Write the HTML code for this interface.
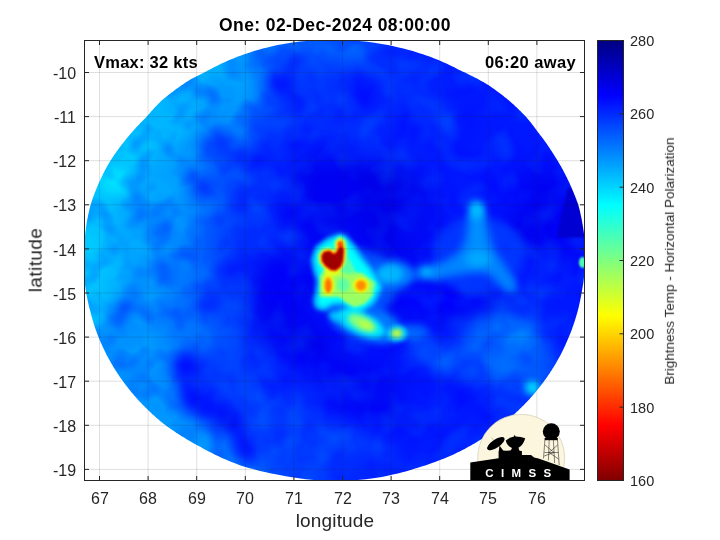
<!DOCTYPE html>
<html><head><meta charset="utf-8"><title>plot</title>
<style>
html,body{margin:0;padding:0;background:#fff;}
body{width:720px;height:540px;position:relative;overflow:hidden;font-family:"Liberation Sans",sans-serif;}
.t{position:absolute;white-space:nowrap;color:#262626;line-height:1.2;will-change:transform;font-family:"Liberation Sans",sans-serif;}
</style></head><body>
<svg width="720" height="540" viewBox="0 0 720 540" style="position:absolute;left:0;top:0">
<defs>
<clipPath id="ax"><rect x="84.5" y="40.5" width="500" height="440"/></clipPath>
<clipPath id="disk" clip-path="url(#ax)"><path d="M313.7,40.4 L300.0,41.6 L290.8,42.7 L283.7,43.9 L277.6,45.1 L272.2,46.2 L267.4,47.4 L262.9,48.5 L258.7,49.7 L254.8,50.8 L251.2,52.0 L247.7,53.2 L244.4,54.3 L241.1,55.5 L238.0,56.6 L235.0,57.8 L232.1,58.9 L229.3,60.1 L226.7,61.3 L224.1,62.4 L221.5,63.6 L219.1,64.7 L216.7,65.9 L214.4,67.1 L212.2,68.2 L210.0,69.4 L207.8,70.5 L205.8,71.7 L203.6,72.8 L201.2,74.0 L198.9,75.2 L196.6,76.3 L194.4,77.5 L192.2,78.6 L190.0,79.8 L188.1,80.9 L186.3,82.1 L184.6,83.3 L182.8,84.4 L181.1,85.6 L179.5,86.7 L177.8,87.9 L176.2,89.1 L174.6,90.2 L173.1,91.4 L171.6,92.5 L170.1,93.7 L168.6,94.8 L167.1,96.0 L165.7,97.2 L164.3,98.3 L162.9,99.5 L161.6,100.6 L160.4,101.8 L159.2,102.9 L158.1,104.1 L156.9,105.3 L155.8,106.4 L154.7,107.6 L153.6,108.7 L152.6,109.9 L151.5,111.1 L150.5,112.2 L149.5,113.4 L148.5,114.5 L147.5,115.7 L146.6,116.8 L145.4,118.0 L144.2,119.2 L143.1,120.3 L141.9,121.5 L140.8,122.6 L139.7,123.8 L138.6,124.9 L137.5,126.1 L136.4,127.3 L135.3,128.4 L134.3,129.6 L133.3,130.7 L132.2,131.9 L131.2,133.1 L130.2,134.2 L129.2,135.4 L128.3,136.5 L127.3,137.7 L126.3,138.8 L125.4,140.0 L124.5,141.2 L123.6,142.3 L122.7,143.5 L121.8,144.6 L120.9,145.8 L120.0,146.9 L119.2,148.1 L118.3,149.3 L117.5,150.4 L116.6,151.6 L115.8,152.7 L115.0,153.9 L114.2,155.1 L113.4,156.2 L112.6,157.4 L111.9,158.5 L111.1,159.7 L110.4,160.8 L109.6,162.0 L109.0,163.2 L108.3,164.3 L107.6,165.5 L107.0,166.6 L106.4,167.8 L105.7,168.9 L105.1,170.1 L104.5,171.3 L103.9,172.4 L103.3,173.6 L102.8,174.7 L102.2,175.9 L101.6,177.1 L101.1,178.2 L100.5,179.4 L100.0,180.5 L99.5,181.7 L98.9,182.8 L98.4,184.0 L97.9,185.2 L97.4,186.3 L96.9,187.5 L96.5,188.6 L96.0,189.8 L95.5,190.9 L95.1,192.1 L94.6,193.3 L94.2,194.4 L93.8,195.6 L93.3,196.7 L92.9,197.9 L92.5,199.1 L92.1,200.2 L91.7,201.4 L91.3,202.5 L91.0,203.7 L90.6,204.8 L90.3,206.0 L90.0,207.2 L89.7,208.3 L89.4,209.5 L89.1,210.6 L88.9,211.8 L88.6,212.9 L88.4,214.1 L88.1,215.3 L87.9,216.4 L87.7,217.6 L87.4,218.7 L87.2,219.9 L87.0,221.1 L86.8,222.2 L86.6,223.4 L86.4,224.5 L86.3,225.7 L86.1,226.8 L85.9,228.0 L85.8,229.2 L85.6,230.3 L85.5,231.5 L85.3,232.6 L85.2,233.8 L85.1,234.9 L85.0,236.1 L84.8,237.3 L84.7,238.4 L84.6,239.6 L84.4,240.7 L84.3,241.9 L84.2,243.1 L84.1,244.2 L84.0,245.4 L83.9,246.5 L83.9,247.7 L83.8,248.8 L83.7,250.0 L83.7,251.2 L83.6,252.3 L83.6,253.5 L83.5,254.6 L83.5,255.8 L83.5,256.9 L83.5,258.1 L83.5,259.3 L83.4,260.4 L83.5,261.6 L83.5,262.7 L83.5,263.9 L83.5,265.1 L83.5,266.2 L83.6,267.4 L83.6,268.5 L83.7,269.7 L83.7,270.8 L83.8,272.0 L83.9,273.2 L83.9,274.3 L84.0,275.5 L84.1,276.6 L84.2,277.8 L84.3,278.9 L84.4,280.1 L84.6,281.3 L84.7,282.4 L84.8,283.6 L85.0,284.7 L85.1,285.9 L85.3,287.1 L85.5,288.2 L85.6,289.4 L85.8,290.5 L86.0,291.7 L86.2,292.8 L86.4,294.0 L86.6,295.2 L86.8,296.3 L87.1,297.5 L87.3,298.6 L87.5,299.8 L87.8,300.9 L88.0,302.1 L88.3,303.3 L88.6,304.4 L88.8,305.6 L89.1,306.7 L89.4,307.9 L89.7,309.1 L90.0,310.2 L90.3,311.4 L90.6,312.5 L90.9,313.7 L91.2,314.8 L91.5,316.0 L91.8,317.2 L92.1,318.3 L92.5,319.5 L92.8,320.6 L93.2,321.8 L93.5,322.9 L93.9,324.1 L94.3,325.3 L94.6,326.4 L95.0,327.6 L95.4,328.7 L95.8,329.9 L96.2,331.1 L96.7,332.2 L97.1,333.4 L97.5,334.5 L98.0,335.7 L98.4,336.8 L98.9,338.0 L99.4,339.2 L99.9,340.3 L100.3,341.5 L100.8,342.6 L101.4,343.8 L101.9,344.9 L102.4,346.1 L102.9,347.3 L103.5,348.4 L104.0,349.6 L104.6,350.7 L105.2,351.9 L105.7,353.1 L106.3,354.2 L106.9,355.4 L107.5,356.5 L108.1,357.7 L108.8,358.8 L109.4,360.0 L110.1,361.2 L110.7,362.3 L111.4,363.5 L112.1,364.6 L112.7,365.8 L113.4,366.9 L114.1,368.1 L114.9,369.3 L115.6,370.4 L116.3,371.6 L117.1,372.7 L117.8,373.9 L118.6,375.1 L119.4,376.2 L120.2,377.4 L121.0,378.5 L121.8,379.7 L122.7,380.8 L123.5,382.0 L124.4,383.2 L125.2,384.3 L126.1,385.5 L127.0,386.6 L127.9,387.8 L128.8,388.9 L129.7,390.1 L130.7,391.3 L131.6,392.4 L132.6,393.6 L133.6,394.7 L134.6,395.9 L135.6,397.1 L136.6,398.2 L137.7,399.4 L138.7,400.5 L139.8,401.7 L140.9,402.8 L142.0,404.0 L143.1,405.2 L144.3,406.3 L145.4,407.5 L146.6,408.6 L147.8,409.8 L149.0,410.9 L150.2,412.1 L151.4,413.3 L152.7,414.4 L154.0,415.6 L155.3,416.7 L156.6,417.9 L157.9,419.1 L159.3,420.2 L160.7,421.4 L162.1,422.5 L163.5,423.7 L165.0,424.8 L166.5,426.0 L168.2,427.2 L169.8,428.3 L171.5,429.5 L173.2,430.6 L174.9,431.8 L176.6,432.9 L178.4,434.1 L180.2,435.3 L182.1,436.4 L184.0,437.6 L185.9,438.7 L187.8,439.9 L189.8,441.1 L191.8,442.2 L193.9,443.4 L195.9,444.5 L198.1,445.7 L200.3,446.8 L202.3,448.0 L204.4,449.2 L206.5,450.3 L208.7,451.5 L211.0,452.6 L213.2,453.8 L215.6,454.9 L218.0,456.1 L220.5,457.3 L223.1,458.4 L225.8,459.6 L228.5,460.7 L231.4,461.9 L234.3,463.1 L237.4,464.2 L240.6,465.4 L243.9,466.5 L247.8,467.7 L252.0,468.8 L256.4,470.0 L261.1,471.2 L266.0,472.3 L271.3,473.5 L277.0,474.6 L283.2,475.8 L290.2,476.9 L297.4,478.1 L305.7,479.3 L319.4,480.4 L351.6,480.4 L366.0,479.3 L375.0,478.1 L381.8,476.9 L387.6,475.8 L392.8,474.6 L397.8,473.5 L402.4,472.3 L406.6,471.2 L410.6,470.0 L414.3,468.8 L417.9,467.7 L421.6,466.5 L425.2,465.4 L428.7,464.2 L432.0,463.1 L435.1,461.9 L438.2,460.7 L441.3,459.6 L444.2,458.4 L447.1,457.3 L450.0,456.1 L452.5,454.9 L455.0,453.8 L457.3,452.6 L459.7,451.5 L461.9,450.3 L464.2,449.2 L466.3,448.0 L468.4,446.8 L470.5,445.7 L472.5,444.5 L474.5,443.4 L476.5,442.2 L478.4,441.1 L480.2,439.9 L482.1,438.7 L483.9,437.6 L485.6,436.4 L487.4,435.3 L489.1,434.1 L490.7,432.9 L492.4,431.8 L494.0,430.6 L495.6,429.5 L497.1,428.3 L498.7,427.2 L500.2,426.0 L501.7,424.8 L503.1,423.7 L504.6,422.5 L506.0,421.4 L507.4,420.2 L508.7,419.1 L510.1,417.9 L511.4,416.7 L512.7,415.6 L514.0,414.4 L515.3,413.3 L516.5,412.1 L517.8,410.9 L519.0,409.8 L520.2,408.6 L521.4,407.5 L522.5,406.3 L523.7,405.2 L524.8,404.0 L525.9,402.8 L527.0,401.7 L528.1,400.5 L529.2,399.4 L530.2,398.2 L531.3,397.1 L532.3,395.9 L533.3,394.7 L534.3,393.6 L535.3,392.4 L536.2,391.3 L537.2,390.1 L538.1,388.9 L539.0,387.8 L540.0,386.6 L540.9,385.5 L541.7,384.3 L542.6,383.2 L543.5,382.0 L544.3,380.8 L545.2,379.7 L546.0,378.5 L546.8,377.4 L547.6,376.2 L548.4,375.1 L549.2,373.9 L550.0,372.7 L550.7,371.6 L551.5,370.4 L552.2,369.3 L552.9,368.1 L553.7,366.9 L554.4,365.8 L555.1,364.6 L555.8,363.5 L556.4,362.3 L557.1,361.2 L557.7,360.0 L558.4,358.8 L559.0,357.7 L559.7,356.5 L560.3,355.4 L560.9,354.2 L561.5,353.1 L562.1,351.9 L562.6,350.7 L563.2,349.6 L563.8,348.4 L564.3,347.3 L564.9,346.1 L565.4,344.9 L565.9,343.8 L566.4,342.6 L567.0,341.5 L567.4,340.3 L567.9,339.2 L568.4,338.0 L568.9,336.8 L569.4,335.7 L569.8,334.5 L570.3,333.4 L570.8,332.2 L571.2,331.1 L571.7,329.9 L572.1,328.7 L572.5,327.6 L572.9,326.4 L573.3,325.3 L573.7,324.1 L574.1,322.9 L574.5,321.8 L574.9,320.6 L575.2,319.5 L575.6,318.3 L575.9,317.2 L576.3,316.0 L576.6,314.8 L577.0,313.7 L577.3,312.5 L577.6,311.4 L577.9,310.2 L578.2,309.1 L578.5,307.9 L578.8,306.7 L579.0,305.6 L579.3,304.4 L579.6,303.3 L579.8,302.1 L580.1,300.9 L580.3,299.8 L580.5,298.6 L580.8,297.5 L581.0,296.3 L581.2,295.2 L581.4,294.0 L581.6,292.8 L581.8,291.7 L582.0,290.5 L582.2,289.4 L582.4,288.2 L582.6,287.1 L582.8,285.9 L583.0,284.7 L583.2,283.6 L583.4,282.4 L583.5,281.3 L583.7,280.1 L583.8,278.9 L583.9,277.8 L584.1,276.6 L584.2,275.5 L584.3,274.3 L584.4,273.2 L584.5,272.0 L584.6,270.8 L584.7,269.7 L584.8,268.5 L584.9,267.4 L585.0,266.2 L585.0,265.1 L585.1,263.9 L585.1,262.7 L585.2,261.6 L585.2,260.4 L585.2,259.3 L585.2,258.1 L585.2,256.9 L585.2,255.8 L585.2,254.6 L585.2,253.5 L585.2,252.3 L585.2,251.2 L585.2,250.0 L585.1,248.8 L585.1,247.7 L585.0,246.5 L585.0,245.4 L584.9,244.2 L584.8,243.1 L584.7,241.9 L584.6,240.7 L584.5,239.6 L584.4,238.4 L584.3,237.3 L584.2,236.1 L584.1,234.9 L584.0,233.8 L583.8,232.6 L583.7,231.5 L583.5,230.3 L583.3,229.2 L583.2,228.0 L583.0,226.8 L582.8,225.7 L582.6,224.5 L582.4,223.4 L582.2,222.2 L582.0,221.1 L581.8,219.9 L581.6,218.7 L581.3,217.6 L581.1,216.4 L580.8,215.3 L580.6,214.1 L580.3,212.9 L580.1,211.8 L579.8,210.6 L579.5,209.5 L579.2,208.3 L578.9,207.2 L578.6,206.0 L578.3,204.8 L577.9,203.7 L577.5,202.5 L577.0,201.4 L576.6,200.2 L576.2,199.1 L575.7,197.9 L575.3,196.7 L574.8,195.6 L574.3,194.4 L573.9,193.3 L573.4,192.1 L572.9,190.9 L572.4,189.8 L571.9,188.6 L571.4,187.5 L570.9,186.3 L570.4,185.2 L569.9,184.0 L569.4,182.8 L568.8,181.7 L568.3,180.5 L567.7,179.4 L567.2,178.2 L566.6,177.1 L566.0,175.9 L565.4,174.7 L564.8,173.6 L564.2,172.4 L563.6,171.3 L563.0,170.1 L562.4,168.9 L561.7,167.8 L561.1,166.6 L560.4,165.5 L559.7,164.3 L559.1,163.2 L558.4,162.0 L557.7,160.8 L557.0,159.7 L556.3,158.5 L555.6,157.4 L554.8,156.2 L554.1,155.1 L553.4,153.9 L552.6,152.7 L551.9,151.6 L551.1,150.4 L550.3,149.3 L549.6,148.1 L548.8,146.9 L548.0,145.8 L547.2,144.6 L546.5,143.5 L545.6,142.3 L544.8,141.2 L544.0,140.0 L543.1,138.8 L542.3,137.7 L541.4,136.5 L540.5,135.4 L539.6,134.2 L538.7,133.1 L537.8,131.9 L536.9,130.7 L536.1,129.6 L535.2,128.4 L534.4,127.3 L533.5,126.1 L532.6,124.9 L531.7,123.8 L530.8,122.6 L529.9,121.5 L528.9,120.3 L528.0,119.2 L527.0,118.0 L526.0,116.8 L525.0,115.7 L523.8,114.5 L522.7,113.4 L521.5,112.2 L520.4,111.1 L519.2,109.9 L518.0,108.7 L516.8,107.6 L515.5,106.4 L514.3,105.3 L513.0,104.1 L511.7,102.9 L510.4,101.8 L509.0,100.6 L507.7,99.5 L506.3,98.3 L504.8,97.2 L503.4,96.0 L501.9,94.8 L500.4,93.7 L498.8,92.5 L497.3,91.4 L495.7,90.2 L494.1,89.1 L492.5,87.9 L490.8,86.7 L489.1,85.6 L487.3,84.4 L485.3,83.3 L483.3,82.1 L481.2,80.9 L479.1,79.8 L477.0,78.6 L474.8,77.5 L472.5,76.3 L470.2,75.2 L467.9,74.0 L465.5,72.8 L463.0,71.7 L460.5,70.5 L458.2,69.4 L456.0,68.2 L453.7,67.1 L451.4,65.9 L448.9,64.7 L446.4,63.6 L443.9,62.4 L441.2,61.3 L438.5,60.1 L435.6,58.9 L432.6,57.8 L429.5,56.6 L426.3,55.5 L422.9,54.3 L419.4,53.2 L415.8,52.0 L411.9,50.8 L407.8,49.7 L403.4,48.5 L398.7,47.4 L393.6,46.2 L388.0,45.1 L381.7,43.9 L374.4,42.7 L365.4,41.6 L352.1,40.4Z"/></clipPath>
<filter id="f0" filterUnits="userSpaceOnUse" x="-100" y="-100" width="920" height="740" color-interpolation-filters="sRGB"><feGaussianBlur stdDeviation="30"/></filter>
<filter id="f1" filterUnits="userSpaceOnUse" x="-100" y="-100" width="920" height="740" color-interpolation-filters="sRGB"><feGaussianBlur stdDeviation="13"/></filter>
<filter id="f2" filterUnits="userSpaceOnUse" x="-100" y="-100" width="920" height="740" color-interpolation-filters="sRGB"><feGaussianBlur stdDeviation="7"/></filter>
<filter id="f3" filterUnits="userSpaceOnUse" x="-100" y="-100" width="920" height="740" color-interpolation-filters="sRGB"><feGaussianBlur stdDeviation="4"/></filter>
<filter id="f4" filterUnits="userSpaceOnUse" x="-100" y="-100" width="920" height="740" color-interpolation-filters="sRGB"><feGaussianBlur stdDeviation="2.6"/></filter>
<filter id="f5" filterUnits="userSpaceOnUse" x="-100" y="-100" width="920" height="740" color-interpolation-filters="sRGB"><feGaussianBlur stdDeviation="1.8"/></filter>
<filter id="f6" filterUnits="userSpaceOnUse" x="-100" y="-100" width="920" height="740" color-interpolation-filters="sRGB"><feGaussianBlur stdDeviation="1"/></filter>
<filter id="nz1" filterUnits="userSpaceOnUse" x="80" y="36" width="510" height="450" color-interpolation-filters="sRGB"><feTurbulence type="fractalNoise" baseFrequency="0.04" numOctaves="2" seed="7"/><feColorMatrix type="matrix" values="0 0 0 0 1  -0.8 0 0 0 1.35  0 0 0 0 1  0 0 0 0 1"/></filter>
<filter id="nz2" filterUnits="userSpaceOnUse" x="80" y="36" width="510" height="450" color-interpolation-filters="sRGB"><feTurbulence type="fractalNoise" baseFrequency="0.035" numOctaves="2" seed="23"/><feColorMatrix type="matrix" values="0 0 0 0 0  0 0.3 0 0 -0.135  0 0 0 0 0  0 0 0 0 1"/></filter>
<linearGradient id="jet" x1="0" y1="0" x2="0" y2="1">
<stop offset="0" stop-color="#000083"/>
<stop offset="0.125" stop-color="#0000ff"/>
<stop offset="0.375" stop-color="#00ffff"/>
<stop offset="0.625" stop-color="#ffff00"/>
<stop offset="0.875" stop-color="#ff0000"/>
<stop offset="1" stop-color="#800000"/>
</linearGradient>
<radialGradient id="bg" gradientUnits="userSpaceOnUse" cx="560" cy="265" r="480">
<stop offset="0.0000" stop-color="#0018ff"/>
<stop offset="0.5208" stop-color="#0018ff"/>
<stop offset="0.6042" stop-color="#0024ff"/>
<stop offset="0.6667" stop-color="#0036ff"/>
<stop offset="0.7292" stop-color="#0056ff"/>
<stop offset="0.7917" stop-color="#007aff"/>
<stop offset="0.8542" stop-color="#0094ff"/>
<stop offset="0.9167" stop-color="#00a8ff"/>
<stop offset="0.9792" stop-color="#00b6ff"/>
<stop offset="1.0000" stop-color="#00baff"/>
</radialGradient>
</defs>
<g clip-path="url(#disk)">
<rect x="0" y="0" width="720" height="540" fill="url(#bg)"/>
<g filter="url(#f0)">
<ellipse cx="352" cy="262" rx="92" ry="85" fill="#0000f3" opacity="0.75"/>
</g>
<g filter="url(#f1)">
<ellipse cx="160" cy="110" rx="100" ry="45" fill="#00b4ff" opacity="0.9" transform="rotate(-40 160 110)"/>
<ellipse cx="232" cy="98" rx="28" ry="50" fill="#009eff" opacity="0.9" transform="rotate(15 232 98)"/>
<ellipse cx="222" cy="138" rx="22" ry="26" fill="#0078ff" opacity="0.7"/>
<ellipse cx="148" cy="200" rx="42" ry="62" fill="#00a8ff" opacity="0.7"/>
<ellipse cx="128" cy="372" rx="55" ry="45" fill="#0087ff" opacity="0.8" transform="rotate(40 128 372)"/>
<ellipse cx="86" cy="232" rx="26" ry="115" fill="#00c8ff" opacity="0.8"/>
<ellipse cx="332" cy="185" rx="36" ry="34" fill="#0000e9" opacity="0.85"/>
<ellipse cx="393" cy="203" rx="32" ry="42" fill="#0000e7" opacity="0.85"/>
<ellipse cx="280" cy="308" rx="32" ry="42" fill="#0000f0" opacity="0.8"/>
<ellipse cx="357" cy="384" rx="55" ry="16" fill="#0000f0" opacity="0.8" transform="rotate(15 357 384)"/>
<ellipse cx="472" cy="304" rx="48" ry="15" fill="#0000f0" opacity="0.8" transform="rotate(5 472 304)"/>
<ellipse cx="540" cy="207" rx="30" ry="45" fill="#0000ed" opacity="0.8"/>
<ellipse cx="215" cy="390" rx="18" ry="40" fill="#0000ff" opacity="0.7" transform="rotate(-25 215 390)"/>
<ellipse cx="375" cy="105" rx="85" ry="55" fill="#0034ff" opacity="0.7" transform="rotate(10 375 105)"/>
<ellipse cx="430" cy="118" rx="42" ry="28" fill="#000aff" opacity="0.6" transform="rotate(20 430 118)"/>
<ellipse cx="565" cy="220" rx="30" ry="50" fill="#0000f5" opacity="0.8"/>
<ellipse cx="508" cy="352" rx="55" ry="38" fill="#0069ff" opacity="0.85" transform="rotate(30 508 352)"/>
<ellipse cx="310" cy="455" rx="60" ry="25" fill="#0037ff" opacity="0.7"/>
<ellipse cx="335" cy="48" rx="48" ry="16" fill="#005fff" opacity="0.8"/>
<ellipse cx="450" cy="430" rx="80" ry="40" fill="#001eff" opacity="0.6" transform="rotate(-20 450 430)"/>
</g>
<g filter="url(#f2)">
<ellipse cx="135" cy="149" rx="16" ry="14" fill="#00daff" opacity="0.85"/>
<ellipse cx="117" cy="181" rx="18" ry="16" fill="#00e6ff" opacity="0.9"/>
<ellipse cx="180" cy="92" rx="25" ry="10" fill="#00aaff" opacity="0.6" transform="rotate(-35 180 92)"/>
<ellipse cx="222" cy="96" rx="18" ry="16" fill="#0096ff" opacity="0.7"/>
<ellipse cx="217" cy="146" rx="16" ry="12" fill="#0028ff" opacity="0.8"/>
<ellipse cx="243" cy="158" rx="14" ry="12" fill="#000aff" opacity="0.8"/>
<ellipse cx="281" cy="83" rx="12" ry="12" fill="#0005ff" opacity="0.9"/>
<ellipse cx="302" cy="62" rx="12" ry="9" fill="#000fff" opacity="0.8"/>
<ellipse cx="257" cy="123" rx="10" ry="10" fill="#0019ff" opacity="0.7"/>
<ellipse cx="317" cy="51" rx="12" ry="8" fill="#006eff" opacity="0.7"/>
<ellipse cx="351" cy="54" rx="12" ry="8" fill="#006eff" opacity="0.7"/>
<ellipse cx="364" cy="92" rx="11" ry="20" fill="#0005ff" opacity="0.9" transform="rotate(-8 364 92)"/>
<ellipse cx="413" cy="129" rx="18" ry="12" fill="#000aff" opacity="0.7"/>
<ellipse cx="430" cy="105" rx="38" ry="9" fill="#0048ff" opacity="0.7" transform="rotate(38 430 105)"/>
<ellipse cx="367" cy="182" rx="16" ry="10" fill="#0000e6" opacity="0.8"/>
<ellipse cx="326" cy="157" rx="14" ry="12" fill="#000fff" opacity="0.6"/>
<ellipse cx="300" cy="100" rx="10" ry="14" fill="#0012ff" opacity="0.7"/>
<ellipse cx="296" cy="140" rx="9" ry="12" fill="#000fff" opacity="0.7"/>
<ellipse cx="202" cy="187" rx="9" ry="9" fill="#000fff" opacity="0.8"/>
<ellipse cx="160" cy="232" rx="12" ry="10" fill="#003cff" opacity="0.7" transform="rotate(-40 160 232)"/>
<ellipse cx="162" cy="268" rx="9" ry="9" fill="#002dff" opacity="0.8"/>
<ellipse cx="233" cy="181" rx="14" ry="12" fill="#0046ff" opacity="0.7"/>
<ellipse cx="268" cy="183" rx="12" ry="10" fill="#0037ff" opacity="0.6"/>
<ellipse cx="290" cy="215" rx="14" ry="30" fill="#003eff" opacity="0.7" transform="rotate(10 290 215)"/>
<ellipse cx="262" cy="225" rx="22" ry="30" fill="#0030ff" opacity="0.6"/>
<ellipse cx="260" cy="161" rx="12" ry="8" fill="#000cff" opacity="0.7"/>
<ellipse cx="226" cy="271" rx="11" ry="10" fill="#000aff" opacity="0.8"/>
<ellipse cx="123" cy="310" rx="8" ry="20" fill="#0032ff" opacity="0.8" transform="rotate(35 123 310)"/>
<ellipse cx="208" cy="304" rx="10" ry="10" fill="#000cff" opacity="0.7"/>
<ellipse cx="175" cy="320" rx="25" ry="18" fill="#005aff" opacity="0.6"/>
<ellipse cx="140" cy="360" rx="18" ry="14" fill="#00a5ff" opacity="0.8"/>
<ellipse cx="186" cy="368" rx="14" ry="14" fill="#0000ff" opacity="0.95"/>
<ellipse cx="191" cy="396" rx="12" ry="18" fill="#0005ff" opacity="0.9" transform="rotate(-10 191 396)"/>
<ellipse cx="211" cy="410" rx="18" ry="11" fill="#0000ff" opacity="0.9" transform="rotate(35 211 410)"/>
<ellipse cx="229" cy="420" rx="15" ry="11" fill="#0000f7" opacity="0.95" transform="rotate(30 229 420)"/>
<ellipse cx="245" cy="446" rx="12" ry="17" fill="#0005ff" opacity="0.9" transform="rotate(-20 245 446)"/>
<ellipse cx="248" cy="402" rx="26" ry="8" fill="#0046ff" opacity="0.7" transform="rotate(33 248 402)"/>
<ellipse cx="278" cy="382" rx="12" ry="10" fill="#0005ff" opacity="0.8"/>
<ellipse cx="273" cy="438" rx="14" ry="10" fill="#0037ff" opacity="0.6"/>
<ellipse cx="297" cy="353" rx="12" ry="14" fill="#0000fa" opacity="0.8"/>
<ellipse cx="300" cy="215" rx="22" ry="18" fill="#0000f5" opacity="0.8"/>
<ellipse cx="335" cy="190" rx="30" ry="18" fill="#0000f5" opacity="0.8"/>
<ellipse cx="385" cy="205" rx="20" ry="25" fill="#0000eb" opacity="0.9"/>
<ellipse cx="398" cy="228" rx="12" ry="12" fill="#0000f0" opacity="0.8"/>
<ellipse cx="376" cy="258" rx="10" ry="10" fill="#0000e6" opacity="0.9"/>
<ellipse cx="280" cy="285" rx="18" ry="25" fill="#0000fa" opacity="0.8"/>
<ellipse cx="310" cy="345" rx="20" ry="16" fill="#0000eb" opacity="0.9"/>
<ellipse cx="400" cy="292" rx="16" ry="10" fill="#0000f5" opacity="0.9"/>
<ellipse cx="440" cy="300" rx="40" ry="12" fill="#0000ff" opacity="0.9" transform="rotate(5 440 300)"/>
<ellipse cx="458" cy="289" rx="14" ry="8" fill="#0000fa" opacity="0.8"/>
<ellipse cx="524" cy="231" rx="16" ry="14" fill="#0000f0" opacity="0.8"/>
<ellipse cx="505" cy="190" rx="30" ry="14" fill="#0005ff" opacity="0.6" transform="rotate(20 505 190)"/>
<ellipse cx="533" cy="292" rx="14" ry="8" fill="#0050ff" opacity="0.7"/>
<ellipse cx="547" cy="265" rx="14" ry="10" fill="#0037ff" opacity="0.6"/>
<ellipse cx="410" cy="215" rx="8" ry="25" fill="#0028ff" opacity="0.6" transform="rotate(15 410 215)"/>
<ellipse cx="433" cy="345" rx="26" ry="8" fill="#0055ff" opacity="0.8" transform="rotate(27 433 345)"/>
<ellipse cx="515" cy="336" rx="24" ry="14" fill="#007dff" opacity="0.75" transform="rotate(30 515 336)"/>
<ellipse cx="500" cy="365" rx="22" ry="10" fill="#0069ff" opacity="0.7" transform="rotate(10 500 365)"/>
<ellipse cx="526" cy="328" rx="7" ry="6" fill="#008cff" opacity="0.7"/>
<ellipse cx="467" cy="308" rx="20" ry="8" fill="#0000fa" opacity="0.7"/>
<ellipse cx="452" cy="398" rx="16" ry="9" fill="#000aff" opacity="0.7"/>
<ellipse cx="330" cy="366" rx="55" ry="7" fill="#0000f7" opacity="0.9" transform="rotate(17 330 366)"/>
<ellipse cx="375" cy="410" rx="55" ry="8" fill="#0000f5" opacity="0.9" transform="rotate(14 375 410)"/>
<ellipse cx="340" cy="437" rx="60" ry="9" fill="#0040ff" opacity="0.8" transform="rotate(15 340 437)"/>
<ellipse cx="335" cy="392" rx="40" ry="5" fill="#0032ff" opacity="0.6" transform="rotate(10 335 392)"/>
<ellipse cx="447" cy="365" rx="45" ry="7" fill="#0058ff" opacity="0.8" transform="rotate(22 447 365)"/>
<ellipse cx="462" cy="397" rx="12" ry="10" fill="#0005ff" opacity="0.7"/>
<ellipse cx="300" cy="455" rx="25" ry="14" fill="#003eff" opacity="0.6"/>
</g>
<g filter="url(#f3)">
<ellipse cx="478" cy="255" rx="45" ry="38" fill="#0037ff" opacity="0.7"/>
<path d="M473.0,202.0 L481.0,202.0 L486.0,225.0 L493.0,250.0 L505.0,267.0 L517.0,287.0 L509.0,292.0 L497.0,281.0 L486.0,271.0 L470.0,272.0 L452.0,275.0 L433.0,279.0 L428.0,271.0 L445.0,262.0 L461.0,252.0 L467.0,235.0 L470.0,215.0Z" fill="#0087ff" opacity="0.95"/>
<ellipse cx="478" cy="259" rx="13" ry="8" fill="#00afff" opacity="0.9"/>
<ellipse cx="477" cy="232" rx="5" ry="20" fill="#0096ff" opacity="0.9" transform="rotate(-3 477 232)"/>
<ellipse cx="476.5" cy="211" rx="6" ry="8" fill="#00c8ff" opacity="0.95"/>
<ellipse cx="425.6" cy="272" rx="6" ry="4.5" fill="#00d7ff" opacity="0.95" transform="rotate(-20 425.6 272)"/>
<ellipse cx="436" cy="268" rx="5" ry="3" fill="#0096ff" opacity="0.8" transform="rotate(-25 436 268)"/>
<ellipse cx="532.5" cy="388" rx="6" ry="5" fill="#00ebff"/>
<ellipse cx="415" cy="332" rx="12" ry="5" fill="#0069ff" opacity="0.85"/>
<ellipse cx="410" cy="275" rx="16" ry="5" fill="#0073ff" opacity="0.5" transform="rotate(-5 410 275)"/>
<ellipse cx="365" cy="322" rx="36" ry="16" fill="#0078ff" opacity="0.9" transform="rotate(20 365 322)"/>
<ellipse cx="385" cy="329" rx="14" ry="6" fill="#0078ff" opacity="0.8" transform="rotate(10 385 329)"/>
<ellipse cx="357" cy="284" rx="38" ry="34" fill="#005aff" opacity="0.6"/>
<ellipse cx="393" cy="275" rx="18" ry="13" fill="#008cff" opacity="0.8"/>
</g>
<g filter="url(#f4)">
<path d="M340.3,236.5 L328.5,241.0 L318.0,249.0 L314.5,259.7 L316.5,270.8 L320.2,280.6 L319.0,291.7 L317.0,300.0 L318.0,306.0 L324.0,307.5 L333.0,303.0 L343.0,303.0 L352.0,309.0 L362.0,310.0 L372.0,303.0 L378.5,291.0 L380.5,286.0 L376.5,280.6 L371.0,270.8 L361.5,259.7 L353.2,248.6 L345.0,238.5Z" fill="#0096ff" stroke="#0096ff" stroke-width="5" stroke-linejoin="round"/>
<path d="M340.3,236.5 L328.5,241.0 L318.0,249.0 L314.5,259.7 L316.5,270.8 L320.2,280.6 L319.0,291.7 L317.0,300.0 L318.0,306.0 L324.0,307.5 L333.0,303.0 L343.0,303.0 L352.0,309.0 L362.0,310.0 L372.0,303.0 L378.5,291.0 L380.5,286.0 L376.5,280.6 L371.0,270.8 L361.5,259.7 L353.2,248.6 L345.0,238.5Z" fill="#00ffff"/>
<ellipse cx="390" cy="274" rx="12" ry="8" fill="#00b9ff" opacity="0.9"/>
<ellipse cx="361" cy="323" rx="25" ry="10.5" fill="#00ebff" transform="rotate(24 361 323)"/>
<ellipse cx="339" cy="317" rx="9" ry="4" fill="#00d2ff" opacity="0.9" transform="rotate(15 339 317)"/>
<ellipse cx="396.7" cy="333.3" rx="10" ry="7" fill="#00d7ff" opacity="0.95"/>
<ellipse cx="362" cy="323" rx="15" ry="7" fill="#87ff78" transform="rotate(26 362 323)"/>
<ellipse cx="366" cy="325" rx="8" ry="4" fill="#b9ff46" transform="rotate(26 366 325)"/>
<ellipse cx="396.7" cy="333.3" rx="5" ry="3.6" fill="#f5ff0a"/>
</g>
<g filter="url(#f5)">
<path d="M321.0,275.0 L346.0,272.0 L362.0,274.0 L374.0,283.0 L371.5,295.0 L364.0,303.0 L355.0,306.0 L347.0,302.0 L340.0,296.0 L321.0,296.0Z" fill="#9bff64" stroke="#9bff64" stroke-width="2" stroke-linejoin="round"/>
<ellipse cx="343" cy="285" rx="6" ry="7" fill="#55ffaa" opacity="0.9"/>
<path d="M344.0,252.0 L350.0,262.0 L355.0,272.0 L346.0,273.0 L343.0,266.0Z" fill="#55ffaa" stroke="#55ffaa" stroke-width="2" stroke-linejoin="round"/>
<path d="M322.1,256.0 L324.4,252.2 L329.7,251.4 L333.4,254.5 L336.7,252.9 L338.9,248.6 L340.8,246.6 L343.0,248.6 L343.2,252.2 L342.4,261.1 L340.2,266.4 L335.6,269.9 L331.2,269.5 L325.9,265.7 L322.6,261.1Z" fill="#4bffb4" stroke="#4bffb4" stroke-width="9" stroke-linejoin="round"/>
<path d="M338.6,249.0 L338.2,243.2 L340.3,241.2 L342.2,243.0 L342.3,249.0Z" fill="#4bffb4" stroke="#4bffb4" stroke-width="9" stroke-linejoin="round"/>
<path d="M322.1,256.0 L324.4,252.2 L329.7,251.4 L333.4,254.5 L336.7,252.9 L338.9,248.6 L340.8,246.6 L343.0,248.6 L343.2,252.2 L342.4,261.1 L340.2,266.4 L335.6,269.9 L331.2,269.5 L325.9,265.7 L322.6,261.1Z" fill="#a5ff5a" stroke="#a5ff5a" stroke-width="6.5" stroke-linejoin="round"/>
<path d="M338.6,249.0 L338.2,243.2 L340.3,241.2 L342.2,243.0 L342.3,249.0Z" fill="#a5ff5a" stroke="#a5ff5a" stroke-width="6.5" stroke-linejoin="round"/>
<path d="M322.1,256.0 L324.4,252.2 L329.7,251.4 L333.4,254.5 L336.7,252.9 L338.9,248.6 L340.8,246.6 L343.0,248.6 L343.2,252.2 L342.4,261.1 L340.2,266.4 L335.6,269.9 L331.2,269.5 L325.9,265.7 L322.6,261.1Z" fill="#f5ff0a" stroke="#f5ff0a" stroke-width="4.5" stroke-linejoin="round"/>
<path d="M338.6,249.0 L338.2,243.2 L340.3,241.2 L342.2,243.0 L342.3,249.0Z" fill="#f5ff0a" stroke="#f5ff0a" stroke-width="4.5" stroke-linejoin="round"/>
<ellipse cx="332" cy="272" rx="9" ry="4" fill="#e1ff1e"/>
<ellipse cx="328.3" cy="285" rx="5.6" ry="10.3" fill="#f5ff0a"/>
<ellipse cx="361" cy="285.5" rx="7.8" ry="7.8" fill="#f5ff0a"/>
</g>
<g filter="url(#f6)">
<path d="M568.0,188.0 L557.5,237.0 L592.0,237.0 L592.0,188.0Z" fill="#0000d2"/>
<path d="M322.1,256.0 L324.4,252.2 L329.7,251.4 L333.4,254.5 L336.7,252.9 L338.9,248.6 L340.8,246.6 L343.0,248.6 L343.2,252.2 L342.4,261.1 L340.2,266.4 L335.6,269.9 L331.2,269.5 L325.9,265.7 L322.6,261.1Z" fill="#ff9b00" stroke="#ff9b00" stroke-width="3" stroke-linejoin="round"/>
<path d="M338.6,249.0 L338.2,243.2 L340.3,241.2 L342.2,243.0 L342.3,249.0Z" fill="#ffa500" stroke="#ffa500" stroke-width="2.4" stroke-linejoin="round"/>
<path d="M322.1,256.0 L324.4,252.2 L329.7,251.4 L333.4,254.5 L336.7,252.9 L338.9,248.6 L340.8,246.6 L343.0,248.6 L343.2,252.2 L342.4,261.1 L340.2,266.4 L335.6,269.9 L331.2,269.5 L325.9,265.7 L322.6,261.1Z" fill="#ff2300" stroke="#ff2300" stroke-width="1.6" stroke-linejoin="round"/>
<path d="M338.6,249.0 L338.2,243.2 L340.3,241.2 L342.2,243.0 L342.3,249.0Z" fill="#ff4100" stroke="#ff4100" stroke-width="0.6" stroke-linejoin="round"/>
<path d="M322.1,256.0 L324.4,252.2 L329.7,251.4 L333.4,254.5 L336.7,252.9 L338.9,248.6 L340.8,246.6 L343.0,248.6 L343.2,252.2 L342.4,261.1 L340.2,266.4 L335.6,269.9 L331.2,269.5 L325.9,265.7 L322.6,261.1Z" fill="#a00000"/>
<ellipse cx="328.3" cy="285" rx="4.2" ry="8.6" fill="#ffaf00"/>
<ellipse cx="328.3" cy="286" rx="2.8" ry="6.5" fill="#ff7300"/>
<ellipse cx="361" cy="285.5" rx="6" ry="6" fill="#ffb900"/>
<ellipse cx="361" cy="285.5" rx="4" ry="4" fill="#ff8c00"/>
<ellipse cx="582.5" cy="262.5" rx="3" ry="5" fill="#4bffb4"/>
</g>
<rect x="80" y="36" width="510" height="450" filter="url(#nz1)" style="mix-blend-mode:multiply"/>
<rect x="80" y="36" width="510" height="450" filter="url(#nz2)" style="mix-blend-mode:screen"/>
<g filter="url(#f3)">
<ellipse cx="478" cy="255" rx="45" ry="38" fill="#0037ff" opacity="0.7"/>
<path d="M473.0,202.0 L481.0,202.0 L486.0,225.0 L493.0,250.0 L505.0,267.0 L517.0,287.0 L509.0,292.0 L497.0,281.0 L486.0,271.0 L470.0,272.0 L452.0,275.0 L433.0,279.0 L428.0,271.0 L445.0,262.0 L461.0,252.0 L467.0,235.0 L470.0,215.0Z" fill="#0087ff" opacity="0.95"/>
<ellipse cx="478" cy="259" rx="13" ry="8" fill="#00afff" opacity="0.9"/>
<ellipse cx="477" cy="232" rx="5" ry="20" fill="#0096ff" opacity="0.9" transform="rotate(-3 477 232)"/>
<ellipse cx="476.5" cy="211" rx="6" ry="8" fill="#00c8ff" opacity="0.95"/>
<ellipse cx="425.6" cy="272" rx="6" ry="4.5" fill="#00d7ff" opacity="0.95" transform="rotate(-20 425.6 272)"/>
<ellipse cx="436" cy="268" rx="5" ry="3" fill="#0096ff" opacity="0.8" transform="rotate(-25 436 268)"/>
<ellipse cx="532.5" cy="388" rx="6" ry="5" fill="#00ebff"/>
<ellipse cx="415" cy="332" rx="12" ry="5" fill="#0069ff" opacity="0.85"/>
<ellipse cx="410" cy="275" rx="16" ry="5" fill="#0073ff" opacity="0.5" transform="rotate(-5 410 275)"/>
<ellipse cx="365" cy="322" rx="36" ry="16" fill="#0078ff" opacity="0.9" transform="rotate(20 365 322)"/>
<ellipse cx="385" cy="329" rx="14" ry="6" fill="#0078ff" opacity="0.8" transform="rotate(10 385 329)"/>
<ellipse cx="357" cy="284" rx="38" ry="34" fill="#005aff" opacity="0.6"/>
<ellipse cx="393" cy="275" rx="18" ry="13" fill="#008cff" opacity="0.8"/>
</g>
<g filter="url(#f4)">
<path d="M340.3,236.5 L328.5,241.0 L318.0,249.0 L314.5,259.7 L316.5,270.8 L320.2,280.6 L319.0,291.7 L317.0,300.0 L318.0,306.0 L324.0,307.5 L333.0,303.0 L343.0,303.0 L352.0,309.0 L362.0,310.0 L372.0,303.0 L378.5,291.0 L380.5,286.0 L376.5,280.6 L371.0,270.8 L361.5,259.7 L353.2,248.6 L345.0,238.5Z" fill="#0096ff" stroke="#0096ff" stroke-width="5" stroke-linejoin="round"/>
<path d="M340.3,236.5 L328.5,241.0 L318.0,249.0 L314.5,259.7 L316.5,270.8 L320.2,280.6 L319.0,291.7 L317.0,300.0 L318.0,306.0 L324.0,307.5 L333.0,303.0 L343.0,303.0 L352.0,309.0 L362.0,310.0 L372.0,303.0 L378.5,291.0 L380.5,286.0 L376.5,280.6 L371.0,270.8 L361.5,259.7 L353.2,248.6 L345.0,238.5Z" fill="#00ffff"/>
<ellipse cx="390" cy="274" rx="12" ry="8" fill="#00b9ff" opacity="0.9"/>
<ellipse cx="361" cy="323" rx="25" ry="10.5" fill="#00ebff" transform="rotate(24 361 323)"/>
<ellipse cx="339" cy="317" rx="9" ry="4" fill="#00d2ff" opacity="0.9" transform="rotate(15 339 317)"/>
<ellipse cx="396.7" cy="333.3" rx="10" ry="7" fill="#00d7ff" opacity="0.95"/>
<ellipse cx="362" cy="323" rx="15" ry="7" fill="#87ff78" transform="rotate(26 362 323)"/>
<ellipse cx="366" cy="325" rx="8" ry="4" fill="#b9ff46" transform="rotate(26 366 325)"/>
<ellipse cx="396.7" cy="333.3" rx="5" ry="3.6" fill="#f5ff0a"/>
</g>
<g filter="url(#f5)">
<path d="M321.0,275.0 L346.0,272.0 L362.0,274.0 L374.0,283.0 L371.5,295.0 L364.0,303.0 L355.0,306.0 L347.0,302.0 L340.0,296.0 L321.0,296.0Z" fill="#9bff64" stroke="#9bff64" stroke-width="2" stroke-linejoin="round"/>
<ellipse cx="343" cy="285" rx="6" ry="7" fill="#55ffaa" opacity="0.9"/>
<path d="M344.0,252.0 L350.0,262.0 L355.0,272.0 L346.0,273.0 L343.0,266.0Z" fill="#55ffaa" stroke="#55ffaa" stroke-width="2" stroke-linejoin="round"/>
<path d="M322.1,256.0 L324.4,252.2 L329.7,251.4 L333.4,254.5 L336.7,252.9 L338.9,248.6 L340.8,246.6 L343.0,248.6 L343.2,252.2 L342.4,261.1 L340.2,266.4 L335.6,269.9 L331.2,269.5 L325.9,265.7 L322.6,261.1Z" fill="#4bffb4" stroke="#4bffb4" stroke-width="9" stroke-linejoin="round"/>
<path d="M338.6,249.0 L338.2,243.2 L340.3,241.2 L342.2,243.0 L342.3,249.0Z" fill="#4bffb4" stroke="#4bffb4" stroke-width="9" stroke-linejoin="round"/>
<path d="M322.1,256.0 L324.4,252.2 L329.7,251.4 L333.4,254.5 L336.7,252.9 L338.9,248.6 L340.8,246.6 L343.0,248.6 L343.2,252.2 L342.4,261.1 L340.2,266.4 L335.6,269.9 L331.2,269.5 L325.9,265.7 L322.6,261.1Z" fill="#a5ff5a" stroke="#a5ff5a" stroke-width="6.5" stroke-linejoin="round"/>
<path d="M338.6,249.0 L338.2,243.2 L340.3,241.2 L342.2,243.0 L342.3,249.0Z" fill="#a5ff5a" stroke="#a5ff5a" stroke-width="6.5" stroke-linejoin="round"/>
<path d="M322.1,256.0 L324.4,252.2 L329.7,251.4 L333.4,254.5 L336.7,252.9 L338.9,248.6 L340.8,246.6 L343.0,248.6 L343.2,252.2 L342.4,261.1 L340.2,266.4 L335.6,269.9 L331.2,269.5 L325.9,265.7 L322.6,261.1Z" fill="#f5ff0a" stroke="#f5ff0a" stroke-width="4.5" stroke-linejoin="round"/>
<path d="M338.6,249.0 L338.2,243.2 L340.3,241.2 L342.2,243.0 L342.3,249.0Z" fill="#f5ff0a" stroke="#f5ff0a" stroke-width="4.5" stroke-linejoin="round"/>
<ellipse cx="332" cy="272" rx="9" ry="4" fill="#e1ff1e"/>
<ellipse cx="328.3" cy="285" rx="5.6" ry="10.3" fill="#f5ff0a"/>
<ellipse cx="361" cy="285.5" rx="7.8" ry="7.8" fill="#f5ff0a"/>
</g>
<g filter="url(#f6)">
<path d="M568.0,188.0 L557.5,237.0 L592.0,237.0 L592.0,188.0Z" fill="#0000d2"/>
<path d="M322.1,256.0 L324.4,252.2 L329.7,251.4 L333.4,254.5 L336.7,252.9 L338.9,248.6 L340.8,246.6 L343.0,248.6 L343.2,252.2 L342.4,261.1 L340.2,266.4 L335.6,269.9 L331.2,269.5 L325.9,265.7 L322.6,261.1Z" fill="#ff9b00" stroke="#ff9b00" stroke-width="3" stroke-linejoin="round"/>
<path d="M338.6,249.0 L338.2,243.2 L340.3,241.2 L342.2,243.0 L342.3,249.0Z" fill="#ffa500" stroke="#ffa500" stroke-width="2.4" stroke-linejoin="round"/>
<path d="M322.1,256.0 L324.4,252.2 L329.7,251.4 L333.4,254.5 L336.7,252.9 L338.9,248.6 L340.8,246.6 L343.0,248.6 L343.2,252.2 L342.4,261.1 L340.2,266.4 L335.6,269.9 L331.2,269.5 L325.9,265.7 L322.6,261.1Z" fill="#ff2300" stroke="#ff2300" stroke-width="1.6" stroke-linejoin="round"/>
<path d="M338.6,249.0 L338.2,243.2 L340.3,241.2 L342.2,243.0 L342.3,249.0Z" fill="#ff4100" stroke="#ff4100" stroke-width="0.6" stroke-linejoin="round"/>
<path d="M322.1,256.0 L324.4,252.2 L329.7,251.4 L333.4,254.5 L336.7,252.9 L338.9,248.6 L340.8,246.6 L343.0,248.6 L343.2,252.2 L342.4,261.1 L340.2,266.4 L335.6,269.9 L331.2,269.5 L325.9,265.7 L322.6,261.1Z" fill="#a00000"/>
<ellipse cx="328.3" cy="285" rx="4.2" ry="8.6" fill="#ffaf00"/>
<ellipse cx="328.3" cy="286" rx="2.8" ry="6.5" fill="#ff7300"/>
<ellipse cx="361" cy="285.5" rx="6" ry="6" fill="#ffb900"/>
<ellipse cx="361" cy="285.5" rx="4" ry="4" fill="#ff8c00"/>
<ellipse cx="582.5" cy="262.5" rx="3" ry="5" fill="#4bffb4"/>
</g>
</g>
<path d="M99.5 40.5V480.5M148.1 40.5V480.5M196.7 40.5V480.5M245.3 40.5V480.5M293.9 40.5V480.5M342.5 40.5V480.5M391.1 40.5V480.5M439.7 40.5V480.5M488.3 40.5V480.5M536.9 40.5V480.5M84.5 469.4H584.5M84.5 425.3H584.5M84.5 381.2H584.5M84.5 337.1H584.5M84.5 293.0H584.5M84.5 248.9H584.5M84.5 204.8H584.5M84.5 160.7H584.5M84.5 116.6H584.5M84.5 72.5H584.5" stroke="#262626" stroke-opacity="0.15" stroke-width="1" fill="none"/>
<path d="M99.5 480.5v-4.5M99.5 40.5v4.5M148.1 480.5v-4.5M148.1 40.5v4.5M196.7 480.5v-4.5M196.7 40.5v4.5M245.3 480.5v-4.5M245.3 40.5v4.5M293.9 480.5v-4.5M293.9 40.5v4.5M342.5 480.5v-4.5M342.5 40.5v4.5M391.1 480.5v-4.5M391.1 40.5v4.5M439.7 480.5v-4.5M439.7 40.5v4.5M488.3 480.5v-4.5M488.3 40.5v4.5M536.9 480.5v-4.5M536.9 40.5v4.5M84.5 469.4h4.5M584.5 469.4h-4.5M84.5 425.3h4.5M584.5 425.3h-4.5M84.5 381.2h4.5M584.5 381.2h-4.5M84.5 337.1h4.5M584.5 337.1h-4.5M84.5 293.0h4.5M584.5 293.0h-4.5M84.5 248.9h4.5M584.5 248.9h-4.5M84.5 204.8h4.5M584.5 204.8h-4.5M84.5 160.7h4.5M584.5 160.7h-4.5M84.5 116.6h4.5M584.5 116.6h-4.5M84.5 72.5h4.5M584.5 72.5h-4.5" stroke="#262626" stroke-width="1" fill="none"/>
<g id="logo">
<clipPath id="lg"><rect x="460" y="400" width="125" height="80"/></clipPath>
<g clip-path="url(#lg)">
<circle cx="521.2" cy="457.8" r="43.5" fill="#fdf6de" stroke="#c9c3ae" stroke-width="0.6"/>
<path d="M470.3 480V462.5L498.6 458.3V451.2L500 450.6L507 450.8L512.5 450.2L519 450.7L521.9 451V455.1L531 455.1L534.1 457.6L538.5 458.4L569.6 469.6V480Z" fill="#000"/>
<ellipse cx="495.9" cy="443.6" rx="10.2" ry="4" transform="rotate(-34 495.9 443.6)" fill="#000"/>
<path d="M499.5 445.5L503.5 451H498.8Z" fill="#000"/>
<path d="M505.8 440.6Q510 437 514 436.6L514.6 434.8L515.6 436.5Q521 436.5 525.2 438.2Q523.5 445 518.5 447.8L519.5 451H510.5L512 448Q506.8 446 505.8 440.6Z" fill="#000"/>
<path d="M491.5 437.5L493.5 440" stroke="#9a958a" stroke-width="0.5"/>
<ellipse cx="551.3" cy="431.5" rx="8.5" ry="8.3" fill="#000"/>
<rect x="544.6" y="438" width="13.2" height="2.2" fill="#000"/>
<path d="M544.9 440L543.5 458.5M557.5 440L559.2 465M549.2 440L548.4 460.5M553.4 440L554.6 463M545 445L554 452.5L544.2 456M557.6 445L549 452.5L558.6 459M544.4 452.5H558.2" stroke="#1a1a1a" stroke-width="0.55" fill="none"/>
<text x="485.2" y="477.4" font-family="Liberation Sans, sans-serif" font-weight="bold" font-size="11.5" fill="#fff" letter-spacing="7.4">CIMSS</text>
</g>
</g>

<rect x="84.5" y="40.5" width="500" height="440" fill="none" stroke="#262626" stroke-width="1"/>
<rect x="597.5" y="40.5" width="26" height="440" fill="url(#jet)" stroke="#262626" stroke-width="1"/>
<path d="M623.5 407.2h-4M623.5 333.8h-4M623.5 260.5h-4M623.5 187.2h-4M623.5 113.8h-4" stroke="#262626" stroke-width="1" fill="none"/>
</svg>
<div class="t" style="left:134.5px;width:400px;top:15px;text-align:center;font-weight:bold;font-size:17.5px;letter-spacing:0.4px;color:#000">One: 02-Dec-2024 08:00:00</div>
<div class="t" style="left:94px;top:52.5px;font-weight:bold;font-size:16.5px;letter-spacing:0.25px;color:#000">Vmax: 32 kts</div>
<div class="t" style="right:143.6px;top:52.5px;font-weight:bold;font-size:16.5px;letter-spacing:0.4px;color:#000">06:20 away</div>
<div class="t" style="right:644px;top:461px;font-size:16px">-19</div>
<div class="t" style="right:644px;top:417px;font-size:16px">-18</div>
<div class="t" style="right:644px;top:373px;font-size:16px">-17</div>
<div class="t" style="right:644px;top:329px;font-size:16px">-16</div>
<div class="t" style="right:644px;top:285px;font-size:16px">-15</div>
<div class="t" style="right:644px;top:241px;font-size:16px">-14</div>
<div class="t" style="right:644px;top:196px;font-size:16px">-13</div>
<div class="t" style="right:644px;top:152px;font-size:16px">-12</div>
<div class="t" style="right:644px;top:108px;font-size:16px">-11</div>
<div class="t" style="right:644px;top:64px;font-size:16px">-10</div>
<div class="t" style="left:79.5px;width:40px;text-align:center;top:488.5px;font-size:16px">67</div>
<div class="t" style="left:128.1px;width:40px;text-align:center;top:488.5px;font-size:16px">68</div>
<div class="t" style="left:176.7px;width:40px;text-align:center;top:488.5px;font-size:16px">69</div>
<div class="t" style="left:225.3px;width:40px;text-align:center;top:488.5px;font-size:16px">70</div>
<div class="t" style="left:273.9px;width:40px;text-align:center;top:488.5px;font-size:16px">71</div>
<div class="t" style="left:322.5px;width:40px;text-align:center;top:488.5px;font-size:16px">72</div>
<div class="t" style="left:371.1px;width:40px;text-align:center;top:488.5px;font-size:16px">73</div>
<div class="t" style="left:419.7px;width:40px;text-align:center;top:488.5px;font-size:16px">74</div>
<div class="t" style="left:468.3px;width:40px;text-align:center;top:488.5px;font-size:16px">75</div>
<div class="t" style="left:516.9px;width:40px;text-align:center;top:488.5px;font-size:16px">76</div>
<div class="t" style="left:234.5px;width:200px;text-align:center;top:510px;font-size:19px;letter-spacing:0.15px">longitude</div>
<div class="t" style="left:35.6px;top:260px;font-size:19px;letter-spacing:0.4px;transform:translate(-50%,-50%) rotate(-90deg)">latitude</div>
<div class="t" style="left:630px;top:473.0px;font-size:14.5px">160</div>
<div class="t" style="left:630px;top:399.7px;font-size:14.5px">180</div>
<div class="t" style="left:630px;top:326.3px;font-size:14.5px">200</div>
<div class="t" style="left:630px;top:253.0px;font-size:14.5px">220</div>
<div class="t" style="left:630px;top:179.7px;font-size:14.5px">240</div>
<div class="t" style="left:630px;top:106.3px;font-size:14.5px">260</div>
<div class="t" style="left:630px;top:33.0px;font-size:14.5px">280</div>
<div class="t" style="left:670px;top:261px;font-size:13.5px;transform:translate(-50%,-50%) rotate(-90deg)">Brightness Temp - Horizontal Polarization</div>
</body></html>
